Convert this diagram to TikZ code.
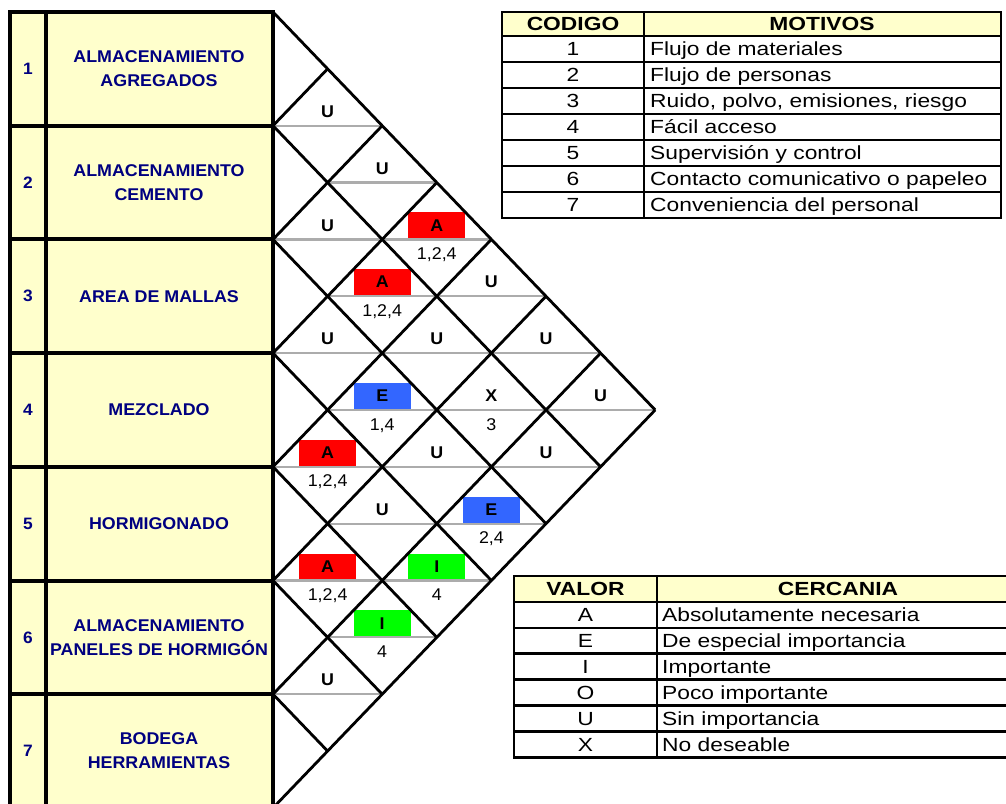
\documentclass[tikz,border=0pt]{standalone}
\usepackage{fontspec}
\setmainfont{Liberation Sans}
\newfontfamily\tabfont[FakeStretch=1.2]{Liberation Sans}
\newfontfamily\lblfont[FakeStretch=1.05]{Liberation Sans}
\usetikzlibrary{calc}
\definecolor{navy}{HTML}{000080}
\definecolor{cellyellow}{HTML}{FFFFCC}
\definecolor{relA}{HTML}{FF0000}
\definecolor{relE}{HTML}{3366FF}
\definecolor{relI}{HTML}{00FF00}

\begin{document}
\begin{tikzpicture}[x=1pt,y=-1pt,
  every node/.style={inner sep=0pt},
  area line/.style={line width=4pt,line cap=rect},
  grid line/.style={line width=2.8pt},
  mid line/.style={line width=2.2pt,gray!65},
  tab line/.style={line width=2.6pt,line cap=rect},
  area/.style={font=\lblfont\bfseries\fontsize{17}{24}\selectfont,text=navy,align=center},
  areanum/.style={font=\lblfont\bfseries\fontsize{16.5}{18}\selectfont,text=navy},
  rel/.style={font=\lblfont\bfseries\fontsize{17}{18}\selectfont,anchor=mid},
  why/.style={font=\lblfont\fontsize{17}{18}\selectfont,anchor=mid},
  head/.style={font=\tabfont\bfseries\fontsize{19}{22}\selectfont,anchor=mid},
  cell/.style={font=\tabfont\fontsize{19}{22}\selectfont,anchor=mid},
  txt/.style={font=\tabfont\fontsize{19}{22}\selectfont,anchor=mid west}]
\useasboundingbox (0,0) rectangle (1006,803);
\clip (0,0) rectangle (1006,803);

% the areas
\fill[cellyellow] (10,12) rectangle (273,808);
\foreach \k in {0,...,7}
  \draw[area line] (10,{12+113.7*\k}) -- (273,{12+113.7*\k});
\draw[area line] (10,12) -- (10,808) (45.5,12) -- (45.5,808) (273,12) -- (273,808);
\foreach \n/\t in {1/{ALMACENAMIENTO\\AGREGADOS},2/{ALMACENAMIENTO\\CEMENTO},3/{AREA DE MALLAS},4/MEZCLADO,5/HORMIGONADO,6/{ALMACENAMIENTO\\PANELES DE HORMIGÓN},7/{BODEGA\\HERRAMIENTAS}} {
  \node[areanum] (num-\n) at (28,{12+113.7*(\n-0.5)}) {\n};
  \node[area] (area-\n) at (159,{12+113.7*(\n-0.5)}) {\t};
}

% the relations
\foreach \i/\j/\v/\c/\r in {1/2/U/white/{},1/3/U/white/{},2/3/U/white/{},1/4/A/relA/{1,2,4},
  2/4/A/relA/{1,2,4},1/5/U/white/{},3/4/U/white/{},2/5/U/white/{},1/6/U/white/{},
  3/5/E/relE/{1,4},2/6/X/white/3,1/7/U/white/{},4/5/A/relA/{1,2,4},3/6/U/white/{},
  2/7/U/white/{},4/6/U/white/{},3/7/E/relE/{2,4},5/6/A/relA/{1,2,4},4/7/I/relI/4,
  5/7/I/relI/4,6/7/U/white/{}} {
  \pgfmathsetmacro\cx{273+54.6*(\j-\i)}
  \pgfmathsetmacro\cy{12+56.85*(\i+\j-1)}
  \fill[\c] (\cx-28.5,\cy-27) rectangle (\cx+28.5,\cy-1);
  \draw[mid line] (\cx-54.6,\cy) -- (\cx+54.6,\cy);
  \node[rel] (rel-\i\j) at (\cx,\cy-11) {\v};
  \node[why] (why-\i\j) at (\cx,\cy+17.5) {\r};
}
\foreach \k in {0,...,6}
  \draw[grid line] (273,{12+113.7*\k}) -- ++({54.6*(7-\k)},{56.85*(7-\k)});
\foreach \k in {1,...,7}
  \draw[grid line] (273,{12+113.7*\k}) -- ++({54.6*\k},{-56.85*\k});

% codes table
\fill[cellyellow] (502,12) rectangle (1001,36);
\draw[tab line] (502,12) rectangle (1001,218);
\foreach \k in {0,...,6}
  \draw[tab line] (502,{36+26*\k}) -- (1001,{36+26*\k});
\draw[tab line] (644,12) -- (644,218);
\node[head] (codigo) at (573,27.5) {CODIGO};
\node[head] (motivos) at (822,27.5) {MOTIVOS};
\foreach \n/\t in {1/Flujo de materiales,2/Flujo de personas,3/{Ruido, polvo, emisiones, riesgo},4/Fácil acceso,5/Supervisión y control,6/Contacto comunicativo o papeleo,7/Conveniencia del personal} {
  \node[cell] (cod-\n) at (573,{53+26*(\n-1)}) {\n};
  \node[txt] (mot-\n) at (650,{53+26*(\n-1)}) {\t};
}

% values table
\fill[cellyellow] (514,576) rectangle (1020,602);
\foreach \k in {0,...,7}
  \draw[tab line] (514,{576+25.9*\k}) -- (1020,{576+25.9*\k});
\draw[tab line] (514,576) -- (514,757.3) (657,576) -- (657,757.3);
\node[head] (valor) at (585.5,592.5) {VALOR};
\node[head] (cercania) at (838,592.5) {CERCANIA};
\foreach \n/\v/\t in {1/A/Absolutamente necesaria,2/E/De especial importancia,3/I/Importante,4/O/Poco importante,5/U/Sin importancia,6/X/No deseable} {
  \node[cell] (val-\v) at (585.5,{580+25.9*(\n+0.5)}) {\v};
  \node[txt] (cer-\v) at (662,{580+25.9*(\n+0.5)}) {\t};
}
\end{tikzpicture}
\end{document}
